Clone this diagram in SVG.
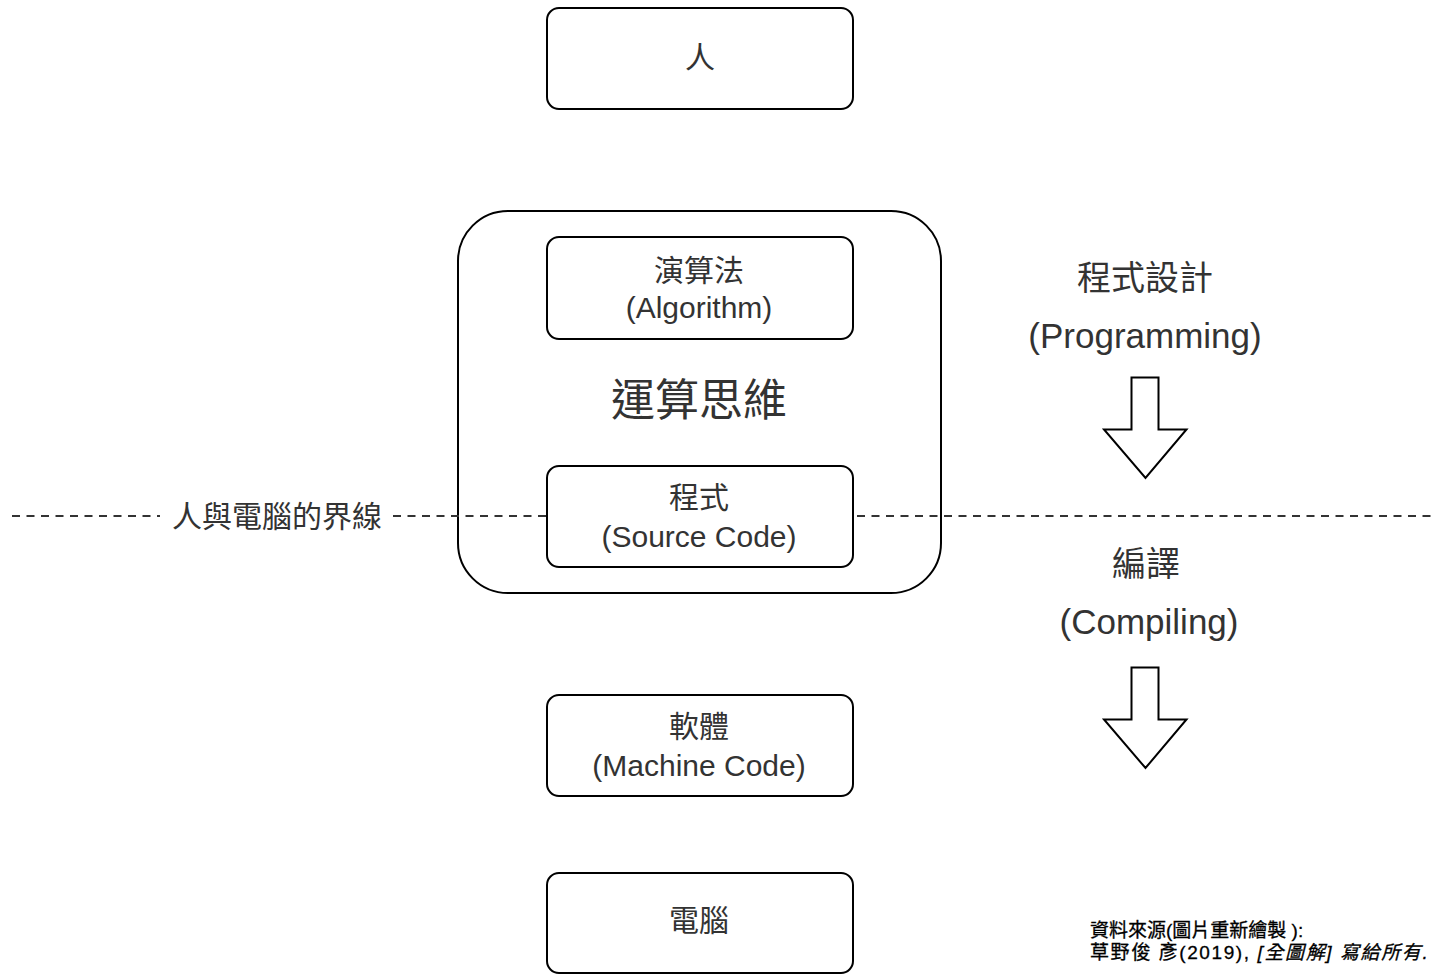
<svg xmlns="http://www.w3.org/2000/svg" width="1437" height="974" viewBox="0 0 1437 974">
<style>
.box{fill:#fff;stroke:#000;stroke-width:2}
.t{font-family:"Liberation Sans","Noto Sans CJK TC",sans-serif;fill:#333;text-anchor:middle;dominant-baseline:central}
.arrow{fill:#fff;stroke:#000;stroke-width:2;stroke-linejoin:miter}
.dash{stroke:#333;stroke-width:2;stroke-dasharray:8 6.5;fill:none}
</style>
<rect width="1437" height="974" fill="#fff"/>
<g id="thinking">
<rect class="box" x="458" y="211" width="483" height="382" rx="50"/>
<text class="t" x="699" y="400" font-size="44">運算思維</text>
</g>
<g id="connectors">
<line class="dash" x1="12" y1="516" x2="160" y2="516"/>
<line class="dash" x1="393" y1="516" x2="1437" y2="516"/>
<text class="t" x="277" y="516" font-size="30">人與電腦的界線</text>
<path class="arrow" d="M1131.5 377.5 H1158.5 V429.5 H1186.5 L1145.5 478 L1104 429.5 H1131.5 Z"/>
<path class="arrow" d="M1131.5 667.5 H1158.5 V719.5 H1186.5 L1145.5 768 L1104 719.5 H1131.5 Z"/>
</g>
<g id="human">
<rect class="box" x="547" y="8" width="306" height="101" rx="12"/>
<text class="t" x="700" y="57" font-size="30">人</text>
</g>
<g id="algorithm">
<rect class="box" x="547" y="237" width="306" height="102" rx="12"/>
<text class="t" x="699" y="270" font-size="30">演算法</text>
<text class="t" x="699" y="307" font-size="30">(Algorithm)</text>
</g>
<g id="source">
<rect class="box" x="547" y="466" width="306" height="101" rx="12"/>
<text class="t" x="699" y="497" font-size="30">程式</text>
<text class="t" x="699" y="536" font-size="30">(Source Code)</text>
</g>
<g id="machine">
<rect class="box" x="547" y="695" width="306" height="101" rx="12"/>
<text class="t" x="699" y="726" font-size="30">軟體</text>
<text class="t" x="699" y="765" font-size="30">(Machine Code)</text>
</g>
<g id="computer">
<rect class="box" x="547" y="873" width="306" height="100" rx="12"/>
<text class="t" x="699" y="920" font-size="30">電腦</text>
</g>
<g id="programming">
<text class="t" x="1145" y="278" font-size="34">程式設計</text>
<text class="t" x="1145" y="335" font-size="35">(Programming)</text>
</g>
<g id="compiling">
<text class="t" x="1146" y="564" font-size="34">編譯</text>
<text class="t" x="1149" y="621" font-size="35">(Compiling)</text>
</g>
<g id="source-note" font-family="'Liberation Sans','Noto Sans CJK TC',sans-serif" font-size="19" fill="#000" stroke="#000" stroke-width="0.3">
<text x="1090" y="937">資料來源(圖片重新繪製 ):</text>
<text x="1090" y="959" letter-spacing="1.6">草野俊 彥(2019), <tspan font-style="italic">[全圖解] 寫給所有.</tspan></text>
</g>
</svg>
